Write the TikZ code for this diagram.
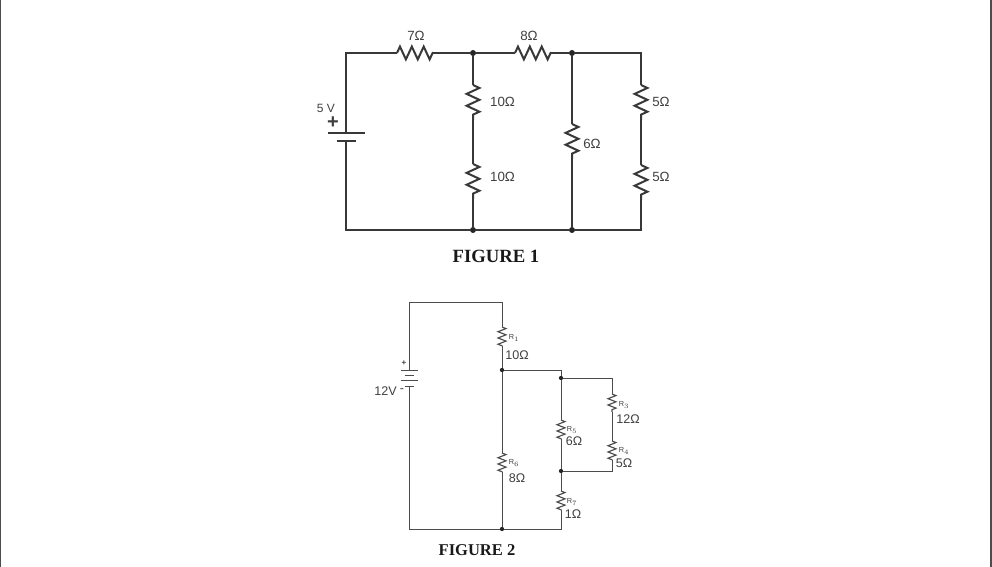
\documentclass[tikz,border=0pt]{standalone}
\usepackage{fontspec}
\setmainfont{Liberation Sans}
\newfontfamily\capfont{Liberation Serif}
\usetikzlibrary{decorations.pathmorphing}
\begin{document}
\begin{tikzpicture}[x=0.75pt,y=-0.75pt]
\tikzset{
    wire/.style={line width=1.5pt,color=black!78,line join=miter},
    thin wire/.style={line width=0.75pt,color=black!70},
    res/.style={wire,decorate,decoration={zigzag,segment length=8.9pt,amplitude=4.8pt}},
    thin res/.style={thin wire,line width=0.85pt,decorate,decoration={zigzag,segment length=4.7pt,amplitude=3pt}},
    dot/.style={circle,fill=black!85,inner sep=0pt,minimum size=4.5pt},
    thin dot/.style={circle,fill=black!85,inner sep=0pt,minimum size=3.2pt},
    val/.style={font=\fontsize{10}{12}\selectfont,text=black!75,inner sep=0pt},
    thin val/.style={font=\fontsize{9.4}{11}\selectfont,text=black!75,inner sep=0pt},
    tag/.style={font=\fontsize{5.5}{6}\selectfont,text=black!75,inner sep=0pt},
    figcap/.style={font=\capfont\bfseries,text=black!90,inner sep=0pt}
}
\useasboundingbox (0,0) rectangle (992,567);
\coordinate (frameTL) at (0.7,0);
\coordinate (frameBL) at (0.7,567);
\coordinate (frameTR) at (991,0);
\coordinate (frameBR) at (991,567);
\draw[line width=0.9pt,black!70] (frameTL) -- (frameBL) (frameTR) -- (frameBR);

\coordinate (tl) at (346,53);
\coordinate (bl) at (346,230);
\coordinate (tr) at (641,53);
\coordinate (br) at (641,230);
\node[dot] (na) at (473,53) {};
\node[dot] (nb) at (572,53) {};
\node[dot] (nc) at (473,230) {};
\node[dot] (nd) at (572,230) {};
\coordinate (bat+) at (346,133);
\coordinate (bat-) at (346,141);
\coordinate (plateAl) at (328,133);
\coordinate (plateAr) at (365,133);
\coordinate (plateBl) at (337,141);
\coordinate (plateBr) at (356,141);
\coordinate (r7a) at (397,53);
\coordinate (r7b) at (433,53);
\coordinate (r8a) at (515,53);
\coordinate (r8b) at (551,53);
\coordinate (r10a) at (473,85);
\coordinate (r10b) at (473,120);
\coordinate (r10c) at (473,164);
\coordinate (r10d) at (473,199);
\coordinate (r6a) at (572,124);
\coordinate (r6b) at (572,159);
\coordinate (r5a) at (641,85);
\coordinate (r5b) at (641,120);
\coordinate (r5c) at (641,165);
\coordinate (r5d) at (641,200);
\draw[wire] (bat+) -- (tl) -- (r7a) (r7b) -- (na) -- (r8a) (r8b) -- (nb) -- (tr) -- (r5a);
\draw[wire] (bat-) -- (bl) -- (nc) -- (nd) -- (br) -- (r5d) (r5c) -- (r5b);
\draw[wire] (na) -- (r10a) (r10b) -- (r10c) (r10d) -- (nc);
\draw[wire] (nb) -- (r6a) (r6b) -- (nd);
\draw[wire] (plateAl) -- (plateAr) (plateBl) -- (plateBr);
\draw[res] (r7a) -- (r7b);
\draw[res] (r8a) -- (r8b);
\draw[res] (r10a) -- (r10b);
\draw[res] (r10c) -- (r10d);
\draw[res] (r6a) -- (r6b);
\draw[res] (r5a) -- (r5b);
\draw[res] (r5c) -- (r5d);
\node[val] (l7) at (416,36) {7Ω};
\node[val] (l8) at (529,36) {8Ω};
\node[val] (l10a) at (502.5,102) {10Ω};
\node[val] (l10b) at (502.5,177) {10Ω};
\node[val] (l6) at (592,144) {6Ω};
\node[val] (l5a) at (661,102) {5Ω};
\node[val] (l5b) at (661,177) {5Ω};
\node[val,font=\fontsize{9}{10}\selectfont] (lv) at (326,108) {5 V};
\node[val,font=\bfseries\fontsize{15}{15}\selectfont] (lplus) at (333,123) {+};
\node[figcap,font=\capfont\bfseries\fontsize{14}{16}\selectfont] (cap1) at (496,256) {FIGURE 1};

\coordinate (tl2) at (409,302);
\coordinate (bl2) at (409,529);
\coordinate (tm2) at (502,302);
\coordinate (ur2) at (561,370);
\coordinate (lr2) at (561,529);
\coordinate (pr2) at (612,378);
\coordinate (qr2) at (612,471);
\node[thin dot] (ne) at (502,370) {};
\node[thin dot] (nf) at (561,378) {};
\node[thin dot] (ng) at (561,471) {};
\node[thin dot] (nh) at (502,529) {};
\coordinate (cell1l) at (401,370);
\coordinate (cell1r) at (418,370);
\coordinate (cell2l) at (405,375);
\coordinate (cell2r) at (414,375);
\coordinate (cell3l) at (401,380);
\coordinate (cell3r) at (418,380);
\coordinate (cell4l) at (405,386);
\coordinate (cell4r) at (414,386);
\coordinate (cellT) at (409,370);
\coordinate (cellB) at (409,386);
\coordinate (r1a) at (502,327);
\coordinate (r1b) at (502,346);
\coordinate (r6xa) at (502,453);
\coordinate (r6xb) at (502,472);
\coordinate (r3a) at (612,394);
\coordinate (r3b) at (612,412);
\coordinate (r4a) at (612,441);
\coordinate (r4b) at (612,460);
\coordinate (r5xa) at (561,420);
\coordinate (r5xb) at (561,439);
\coordinate (r7xa) at (561,491);
\coordinate (r7xb) at (561,510);
\draw[thin wire] (cellT) -- (tl2) -- (tm2) -- (r1a) (r1b) -- (ne) -- (r6xa) (r6xb) -- (nh);
\draw[thin wire] (cellB) -- (bl2) -- (nh) -- (lr2) -- (r7xb) (r7xa) -- (ng) -- (r5xb) (r5xa) -- (nf) -- (ur2) -- (ne);
\draw[thin wire] (nf) -- (pr2) -- (r3a) (r3b) -- (r4a) (r4b) -- (qr2) -- (ng);
\draw[thin wire] (cell1l) -- (cell1r) (cell2l) -- (cell2r) (cell3l) -- (cell3r) (cell4l) -- (cell4r);
\draw[thin res] (r1a) -- (r1b);
\draw[thin res] (r6xa) -- (r6xb);
\draw[thin res] (r3a) -- (r3b);
\draw[thin res] (r4a) -- (r4b);
\draw[thin res] (r5xa) -- (r5xb);
\draw[thin res] (r7xa) -- (r7xb);
\node[tag] (tr1) at (514,338) {R$_1$};
\node[thin val] (v1) at (517,355.5) {10Ω};
\node[tag] (tr6) at (514,463) {R$_6$};
\node[thin val] (v6) at (517,478) {8Ω};
\node[tag] (tr5) at (572,430) {R$_5$};
\node[thin val] (v5) at (574,441) {6Ω};
\node[tag] (tr3) at (624,405) {R$_3$};
\node[thin val] (v3) at (628,419) {12Ω};
\node[tag] (tr4) at (624,451) {R$_4$};
\node[thin val] (v4) at (624,463) {5Ω};
\node[tag] (tr7) at (572,502) {R$_7$};
\node[thin val] (v7) at (573,514) {1Ω};
\node[thin val] (lv2) at (385.5,391) {12V};
\node[thin val] (lminus) at (402,391) {-};
\node[tag,font=\bfseries\fontsize{6}{6}\selectfont] (lplus2) at (404,363) {+};
\node[figcap,font=\capfont\bfseries\fontsize{12.4}{14}\selectfont] (cap2) at (477,550) {FIGURE 2};
\end{tikzpicture}
\end{document}
